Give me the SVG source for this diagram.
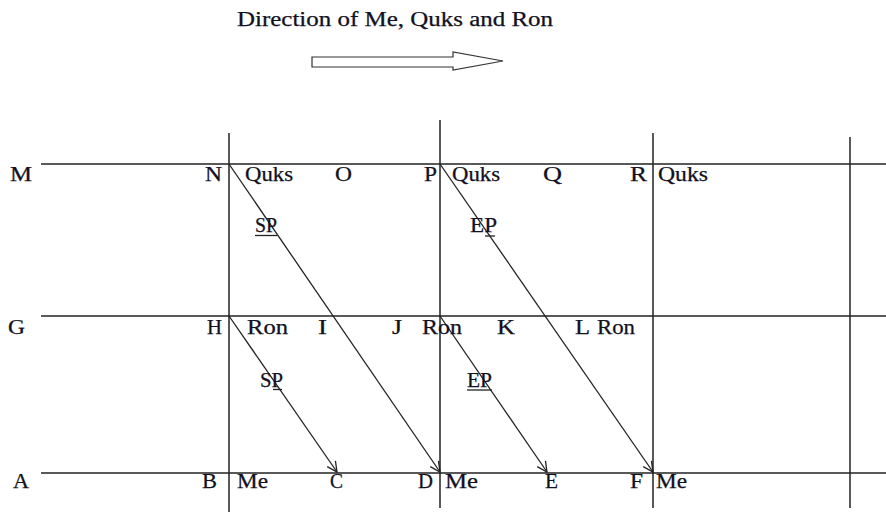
<svg xmlns="http://www.w3.org/2000/svg" width="886" height="517" viewBox="0 0 886 517">
<style>
.ln{stroke:#222;stroke-width:1.5;fill:none}
.dg{stroke:#222;stroke-width:1.3;fill:none}
text{font-family:"Liberation Serif","Times New Roman",serif;font-size:20px;fill:#111122;stroke:#111122;stroke-width:0.25}
</style>
<defs>
<marker id="ah" viewBox="0 0 12 12" refX="11" refY="6" markerWidth="12" markerHeight="12" markerUnits="userSpaceOnUse" orient="auto">
<path d="M1,1 L11,6 L1,11" fill="none" stroke="#222" stroke-width="1.3"/>
</marker>
</defs>
<rect width="886" height="517" fill="#fff"/>
<g id="title">
<text x="237" y="26" textLength="316" lengthAdjust="spacingAndGlyphs">Direction  of  Me, Quks and Ron</text>
<path d="M312,57 L453,57 L453,52 L503,61 L453,70 L453,67 L312,67 Z" fill="#fff" stroke="#333" stroke-width="1.2"/>
</g>
<g id="grid">
<line class="ln" x1="41" y1="164" x2="886" y2="164"/>
<line class="ln" x1="41" y1="316" x2="886" y2="316"/>
<line class="ln" x1="41" y1="473" x2="886" y2="473"/>
<line class="ln" x1="229" y1="133" x2="229" y2="512"/>
<line class="ln" x1="440" y1="120" x2="440" y2="508"/>
<line class="ln" x1="653" y1="133" x2="653" y2="508"/>
<line class="ln" x1="850" y1="137" x2="850" y2="508"/>
</g>
<g id="connectors">
<line class="dg" x1="229" y1="164" x2="440" y2="472" marker-end="url(#ah)"/>
<line class="dg" x1="440" y1="164" x2="653" y2="472" marker-end="url(#ah)"/>
<line class="dg" x1="229" y1="316" x2="337" y2="472" marker-end="url(#ah)"/>
<line class="dg" x1="440" y1="316" x2="547" y2="472" marker-end="url(#ah)"/>
</g>
<g id="row-M">
<text x="10" y="181" textLength="22" lengthAdjust="spacingAndGlyphs">M</text>
<text x="205" y="181" textLength="17" lengthAdjust="spacingAndGlyphs">N</text>
<text x="245" y="181" textLength="48" lengthAdjust="spacingAndGlyphs">Quks</text>
<text x="335" y="181" textLength="17" lengthAdjust="spacingAndGlyphs">O</text>
<text x="424" y="181" textLength="13" lengthAdjust="spacingAndGlyphs">P</text>
<text x="452" y="181" textLength="48" lengthAdjust="spacingAndGlyphs">Quks</text>
<text x="543" y="181" textLength="19" lengthAdjust="spacingAndGlyphs">Q</text>
<text x="630" y="181" textLength="17" lengthAdjust="spacingAndGlyphs">R</text>
<text x="658" y="181" textLength="50" lengthAdjust="spacingAndGlyphs">Quks</text>
</g>
<g id="labels-upper">
<text x="255" y="232" textLength="22" lengthAdjust="spacingAndGlyphs">SP</text>
<line class="dg" x1="255" y1="235.5" x2="277" y2="235.5"/>
<text x="470" y="232" textLength="27" lengthAdjust="spacingAndGlyphs">EP</text>
<line class="dg" x1="485" y1="236" x2="495" y2="236"/>
</g>
<g id="row-G">
<text x="8" y="334" textLength="17" lengthAdjust="spacingAndGlyphs">G</text>
<text x="207" y="334" textLength="15" lengthAdjust="spacingAndGlyphs">H</text>
<text x="247" y="334" textLength="41" lengthAdjust="spacingAndGlyphs">Ron</text>
<text x="318" y="334" textLength="9" lengthAdjust="spacingAndGlyphs">I</text>
<text x="392" y="334" textLength="10" lengthAdjust="spacingAndGlyphs">J</text>
<text x="422" y="334" textLength="40" lengthAdjust="spacingAndGlyphs">Ron</text>
<text x="497" y="334" textLength="18" lengthAdjust="spacingAndGlyphs">K</text>
<text x="575" y="334" textLength="15" lengthAdjust="spacingAndGlyphs">L</text>
<text x="597" y="334" textLength="38" lengthAdjust="spacingAndGlyphs">Ron</text>
</g>
<g id="labels-lower">
<text x="260" y="387" textLength="23" lengthAdjust="spacingAndGlyphs">SP</text>
<line class="dg" x1="273" y1="389.5" x2="282" y2="389.5"/>
<text x="467" y="387" textLength="25" lengthAdjust="spacingAndGlyphs">EP</text>
<line class="dg" x1="467" y1="390" x2="492" y2="390"/>
</g>
<g id="row-A">
<text x="13" y="488" textLength="16" lengthAdjust="spacingAndGlyphs">A</text>
<text x="202" y="488" textLength="15" lengthAdjust="spacingAndGlyphs">B</text>
<text x="237" y="488" textLength="31" lengthAdjust="spacingAndGlyphs">Me</text>
<text x="330" y="488" textLength="13" lengthAdjust="spacingAndGlyphs">C</text>
<text x="418" y="488" textLength="15" lengthAdjust="spacingAndGlyphs">D</text>
<text x="445" y="488" textLength="33" lengthAdjust="spacingAndGlyphs">Me</text>
<text x="545" y="488" textLength="13" lengthAdjust="spacingAndGlyphs">E</text>
<text x="630" y="488" textLength="13" lengthAdjust="spacingAndGlyphs">F</text>
<text x="656" y="488" textLength="31" lengthAdjust="spacingAndGlyphs">Me</text>
</g>
</svg>
